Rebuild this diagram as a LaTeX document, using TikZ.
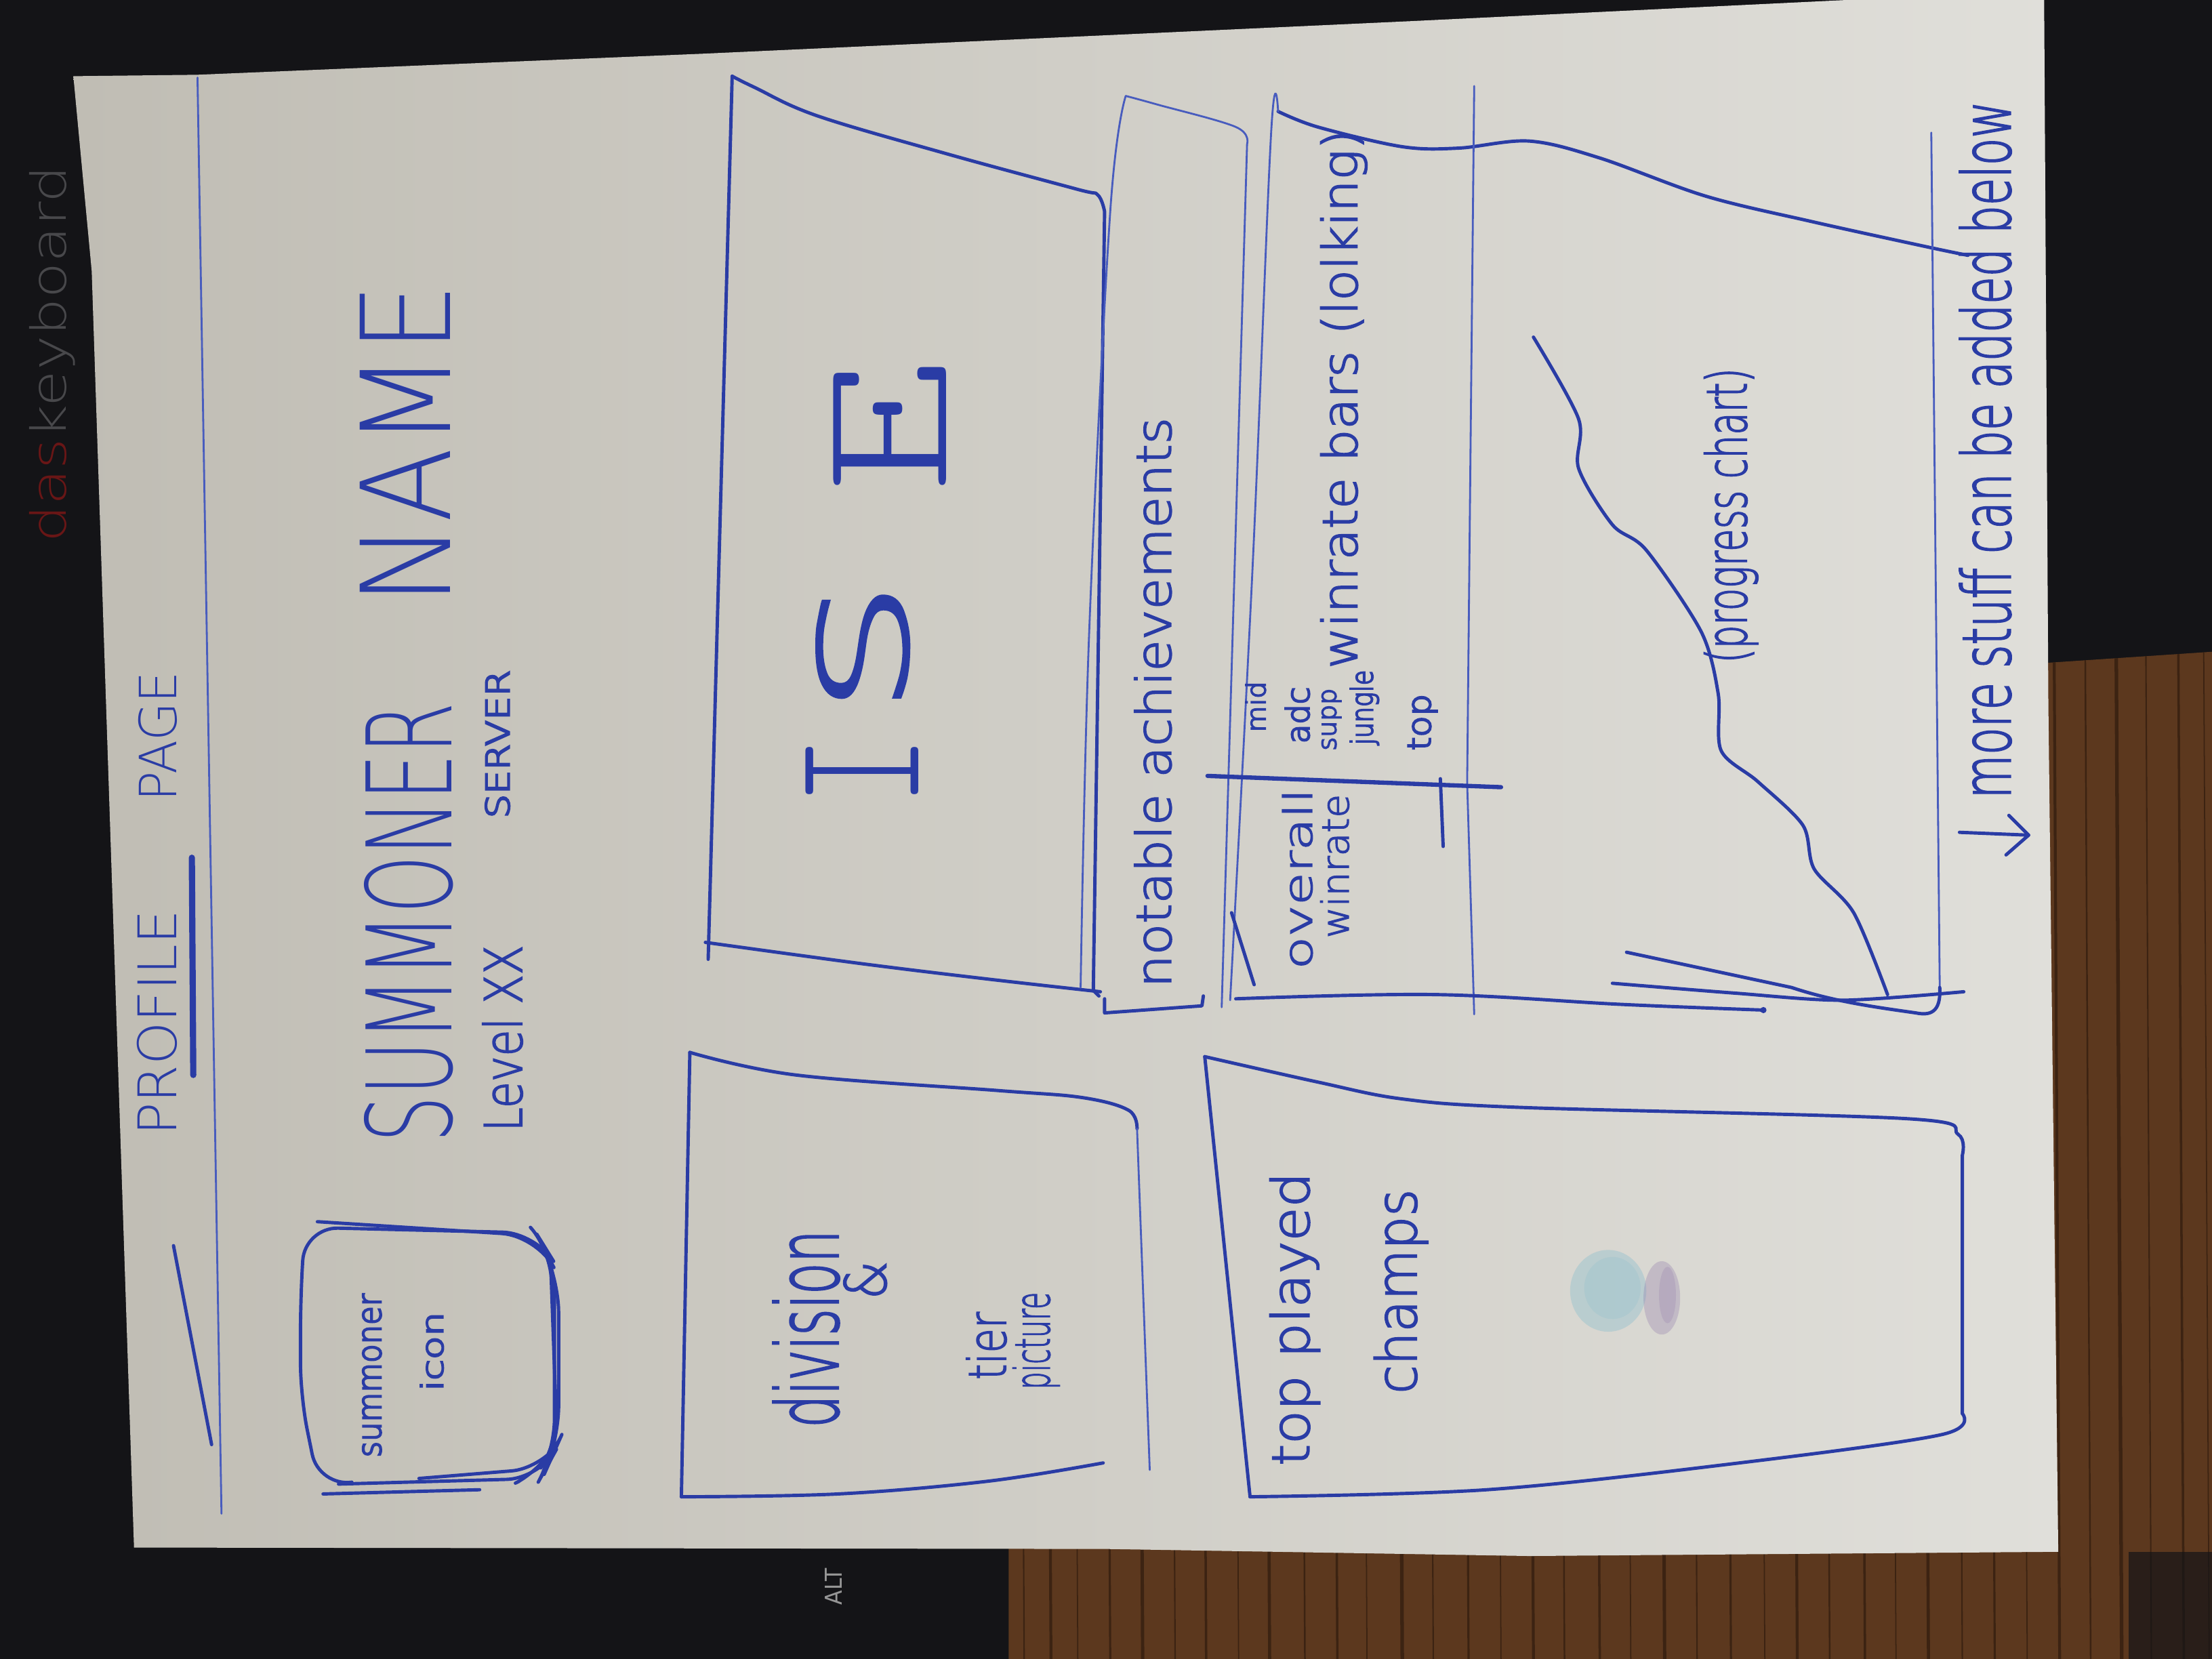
\documentclass[tikz,border=0pt]{standalone}
\usepackage{fontspec}
\usepackage{graphicx}
\newfontfamily\handfont{DejaVuSans-ExtraLight.ttf}
\newfontfamily\handmid{DejaVuSans-ExtraLight.ttf}[FakeBold=2.5]
\newfontfamily\handsmall{DejaVuSans-ExtraLight.ttf}[FakeBold=5]
\newfontfamily\monolight{lmmonolt10-regular.otf}
\newfontfamily\keyfont{DejaVu Sans}
\newdimen\tu
\tu=0.59227pt
% \hw{length}{height}{text}: text stretched to a given run length and height
\newcommand\hw[3]{\resizebox{#1\tu}{#2\tu}{#3}}
\definecolor{ink}{RGB}{42,60,165}
\definecolor{inkthin}{RGB}{72,92,190}
\definecolor{desk}{RGB}{20,20,23}
\definecolor{wood}{RGB}{92,56,30}
\definecolor{grain}{RGB}{52,30,15}
\definecolor{paperL}{RGB}{192,189,180}
\definecolor{paperR}{RGB}{224,223,218}
\definecolor{dasred}{RGB}{105,22,22}
\definecolor{keygray}{RGB}{72,72,75}
\definecolor{legend}{RGB}{150,150,150}
\definecolor{blobcyan}{RGB}{140,190,205}
\definecolor{blobpurple}{RGB}{135,110,165}
\tikzset{
  pen/.style={draw=ink, line width=1.4pt, line cap=round, line join=round},
  thinpen/.style={draw=inkthin, line width=0.8pt, line cap=round, line join=round},
  boldpen/.style={draw=ink, line width=2.6pt, line cap=round},
  hand/.style={rotate=90, anchor=base west, inner sep=0pt, outer sep=0pt, text=ink, font=\handmid},
  bighand/.style={hand, font=\handfont},
  smallhand/.style={hand, font=\handsmall},
  serifhand/.style={hand, font=\monolight},
}
\begin{document}
\begin{tikzpicture}[x=0.020816cm, y=-0.020816cm]
\useasboundingbox (0,0) rectangle (1568,1176);

% ---- desk and keyboard ----
\fill[desk] (0,0) rectangle (1568,1176);
\node[rotate=90, anchor=base west, inner sep=0pt, font=\handfont] (brand) at (47,385)
  {\hw{267}{26}{\textcolor{dasred}{das}\textcolor{keygray}{keyboard}}};
\node[rotate=90, anchor=base west, inner sep=0pt, font=\keyfont, text=legend] (altkey) at (597,1138)
  {\hw{26}{12}{ALT}};

% ---- wooden table ----
\begin{scope}
  \clip (1449,470) -- (1568,462) -- (1568,1176) -- (715,1176) -- (715,1097) -- (1459,1099) -- cycle;
  \fill[wood] (700,440) rectangle (1568,1176);
  \foreach \gx/\gw in {722/0.6,741/1.2,760/0.5,783/0.9,806/1.4,829/0.6,851/1.0,874/0.5,896/1.3,
      921/0.7,944/1.0,965/0.5,990/1.5,1012/0.6,1037/0.9,1060/0.5,1083/1.2,1105/0.7,1130/1.0,
      1152/0.5,1176/1.4,1199/0.6,1223/0.9,1247/0.5,1270/1.2,1293/0.7,1318/1.0,1340/0.5,
      1363/1.3,1387/0.6,1410/0.9,1433/0.5,1456/1.2,1478/0.7,1500/1.5,1521/0.6,1544/1.0,1562/0.5}
    \draw[grain, line width=\gw pt, opacity=0.8] (\gx,440) -- (\gx+4,1176);
  \fill[desk, opacity=0.7] (1509,1100) rectangle (1568,1176);
\end{scope}

% ---- sheet of paper ----
\shade[left color=paperL, right color=paperR]
  (52,54) -- (140,53) -- (500,38) -- (784,25) -- (1000,15) -- (1309,0) -- (1449,0)
  -- (1452,500) -- (1459,1100) -- (1084,1103) -- (784,1098) -- (95,1097) -- (65,192) -- cycle;

% ---- header ----
\draw[thinpen] (140,55) -- (157,1073);
\draw[boldpen] (136,608) -- (137,762);
\draw[pen] (123,883) -- (150,1024);
\node[bighand] (profile) at (125,805) {\hw{160}{28}{PROFILE}};
\node[bighand] (page) at (125,568) {\hw{92}{27}{PAGE}};

% ---- summoner icon ----
\draw[pen, rounded corners=14] (240,1052) -- (226,1054) -- (213,990) -- (213,920) -- (216,870)
  -- (380,874) -- (393,895) -- (393,1030) -- (383,1048) -- (240,1052);
\draw[pen, rounded corners=15] (225,866) -- (381,876) -- (396,905) -- (396,1022) -- (388,1040) -- (368,1050);
\draw[pen, rounded corners=12] (376,870) -- (390,886) -- (395,1024) -- (383,1041) -- (297,1048);
\draw[pen] (229,1059) -- (340,1056);
\node[smallhand] (sumicon1) at (270,1033) {\hw{116}{13}{summoner}};
\node[smallhand] (sumicon2) at (314,986) {\hw{56}{16}{icon}};

% ---- name, level, server ----
\node[bighand] (sumname1) at (320,810) {\hw{312}{62}{SUMMONER}};
\node[bighand] (sumname2) at (319,429) {\hw{228}{64}{NAME}};
\node[hand] (level) at (370,802) {\hw{132}{28}{Level XX}};
\node[smallhand] (server) at (361,580) {\hw{105}{17}{SERVER}};

% ---- ISE panel ----
\draw[pen] plot[smooth, tension=0.6] coordinates {(519,54) (535,62) (579,82) (671,109) (763,134) (778,138) (783,150)}
  -- (775,702) -- (779,706);
\draw[pen] (519,54) -- (502,680);
\draw[pen] plot[smooth, tension=0.6] coordinates {(500,668) (610,683) (700,694) (780,703)};
\node[serifhand] (ise1) at (651,571) {\hw{49}{80}{I}};
\node[hand] (ise2) at (643,507) {\hw{96}{64}{S}};
\node[serifhand] (ise3) at (671,349) {\hw{93}{80}{E}};

% ---- division panel ----
\draw[pen] plot[smooth, tension=0.6] coordinates {(489,746) (564,762) (707,773) (767,778) (800,787) (806,800)};
\draw[thinpen] (806,800) -- (815,1042);
\draw[pen] (489,746) -- (483,1061);
\draw[pen] plot[smooth, tension=0.6] coordinates {(483,1061) (594,1059) (700,1050) (782,1037)};
\node[hand] (div1) at (594,1012) {\hw{140}{46}{division}};
\node[hand] (div2) at (628,921) {\hw{27}{30}{\&}};
\node[hand] (div3) at (713,978) {\hw{48}{28}{tier}};
\node[hand] (div4) at (744,985) {\hw{69}{26}{picture}};

% ---- notable achievements ----
\draw[thinpen] plot[smooth, tension=0.6] coordinates {(798,68) (787,150) (772,450) (766,700)};
\draw[thinpen] plot[smooth, tension=0.6] coordinates {(798,68) (820,74) (876,90) (884,102)} -- (866,714);
\draw[pen] (783,708) -- (783,718) -- (852,713) -- (853,706);
\node[hand] (notable) at (830,700) {\hw{404}{26}{notable achievements}};

% ---- winrate and progress panel ----
\draw[pen] plot[smooth, tension=0.55] coordinates {(906,79) (934,90) (994,104) (1034,105) (1084,100)
  (1134,112) (1209,139) (1284,157) (1366,175) (1395,181)};
\draw[thinpen] plot[smooth, tension=0.6] coordinates {(906,79) (901,95) (888,400) (872,709)};
\draw[thinpen] (1045,61) -- (1040,555) -- (1045,719);
\draw[pen] plot[smooth, tension=0.6] coordinates {(876,708) (1016,705) (1150,712) (1250,716)};
\fill[ink] (1250,716) circle (2.2);
\draw[boldpen, line width=1.8pt] (856,550) -- (1064,558);
\draw[pen] (1021,552) -- (1023,600);
\draw[pen] (873,647) -- (889,698);
\draw[thinpen] (1369,94) -- (1375,700);
\draw[pen] (1375,700) .. controls (1376,718) and (1368,720) .. (1358,718)
  .. controls (1330,714) and (1300,710) .. (1270,700) -- (1153,675);
\draw[pen] plot[smooth, tension=0.5] coordinates {(1143,697) (1230,704) (1306,709) (1392,703)};
\draw[pen] plot[smooth, tension=0.5] coordinates {(1087,239) (1119,297) (1119,332) (1143,372) (1167,390)
  (1206,448) (1218,492) (1220,532) (1246,554) (1278,585) (1286,616) (1314,647) (1338,705)};
\node[hand] (bars) at (962,474) {\hw{382}{26}{winrate bars (lolking)}};
\node[smallhand] (lane1) at (897,519) {\hw{36}{14}{mid}};
\node[smallhand] (lane2) at (928,527) {\hw{40}{17}{adc}};
\node[smallhand] (lane3) at (947,532) {\hw{44}{10}{supp}};
\node[smallhand] (lane4) at (973,528) {\hw{53}{16}{jungle}};
\node[smallhand] (lane5) at (1014,532) {\hw{40}{16}{top}};
\node[hand] (overall1) at (930,687) {\hw{128}{21}{overall}};
\node[hand] (overall2) at (956,665) {\hw{102}{20}{winrate}};
\node[hand] (progress) at (1238,470) {\hw{209}{30}{(progress chart)}};

% ---- top played champions ----
\draw[pen] plot[smooth, tension=0.55] coordinates {(854,749) (934,767) (994,779) (1078,785) (1352,793) (1388,804) (1391,819)}
  -- (1391,1002);
\draw[pen] plot[smooth, tension=0.55] coordinates {(1391,1002) (1376,1017) (1233,1037) (1054,1056) (886,1061)};
\draw[pen] (854,749) -- (886,1060);
\node[hand] (champs1) at (928,1039) {\hw{208}{28}{top played}};
\node[hand] (champs2) at (1004,988) {\hw{145}{30}{champs}};
% ink stain on the sheet
\fill[blobcyan, opacity=0.4] (1140,915) ellipse [x radius=27, y radius=29];
\fill[blobcyan, opacity=0.25] (1143,913) ellipse [x radius=20, y radius=22];
\fill[blobpurple, opacity=0.28] (1178,920) ellipse [x radius=13, y radius=26];
\fill[blobpurple, opacity=0.2] (1182,918) ellipse [x radius=6, y radius=20];

% ---- footer note ----
\draw[pen] (1389,590) -- (1438,592);
\draw[pen] (1424,578) -- (1438,592) -- (1422,606);
\node[hand] (note) at (1425,566) {\hw{494}{36}{more stuff can be added below}};
\end{tikzpicture}
\end{document}
